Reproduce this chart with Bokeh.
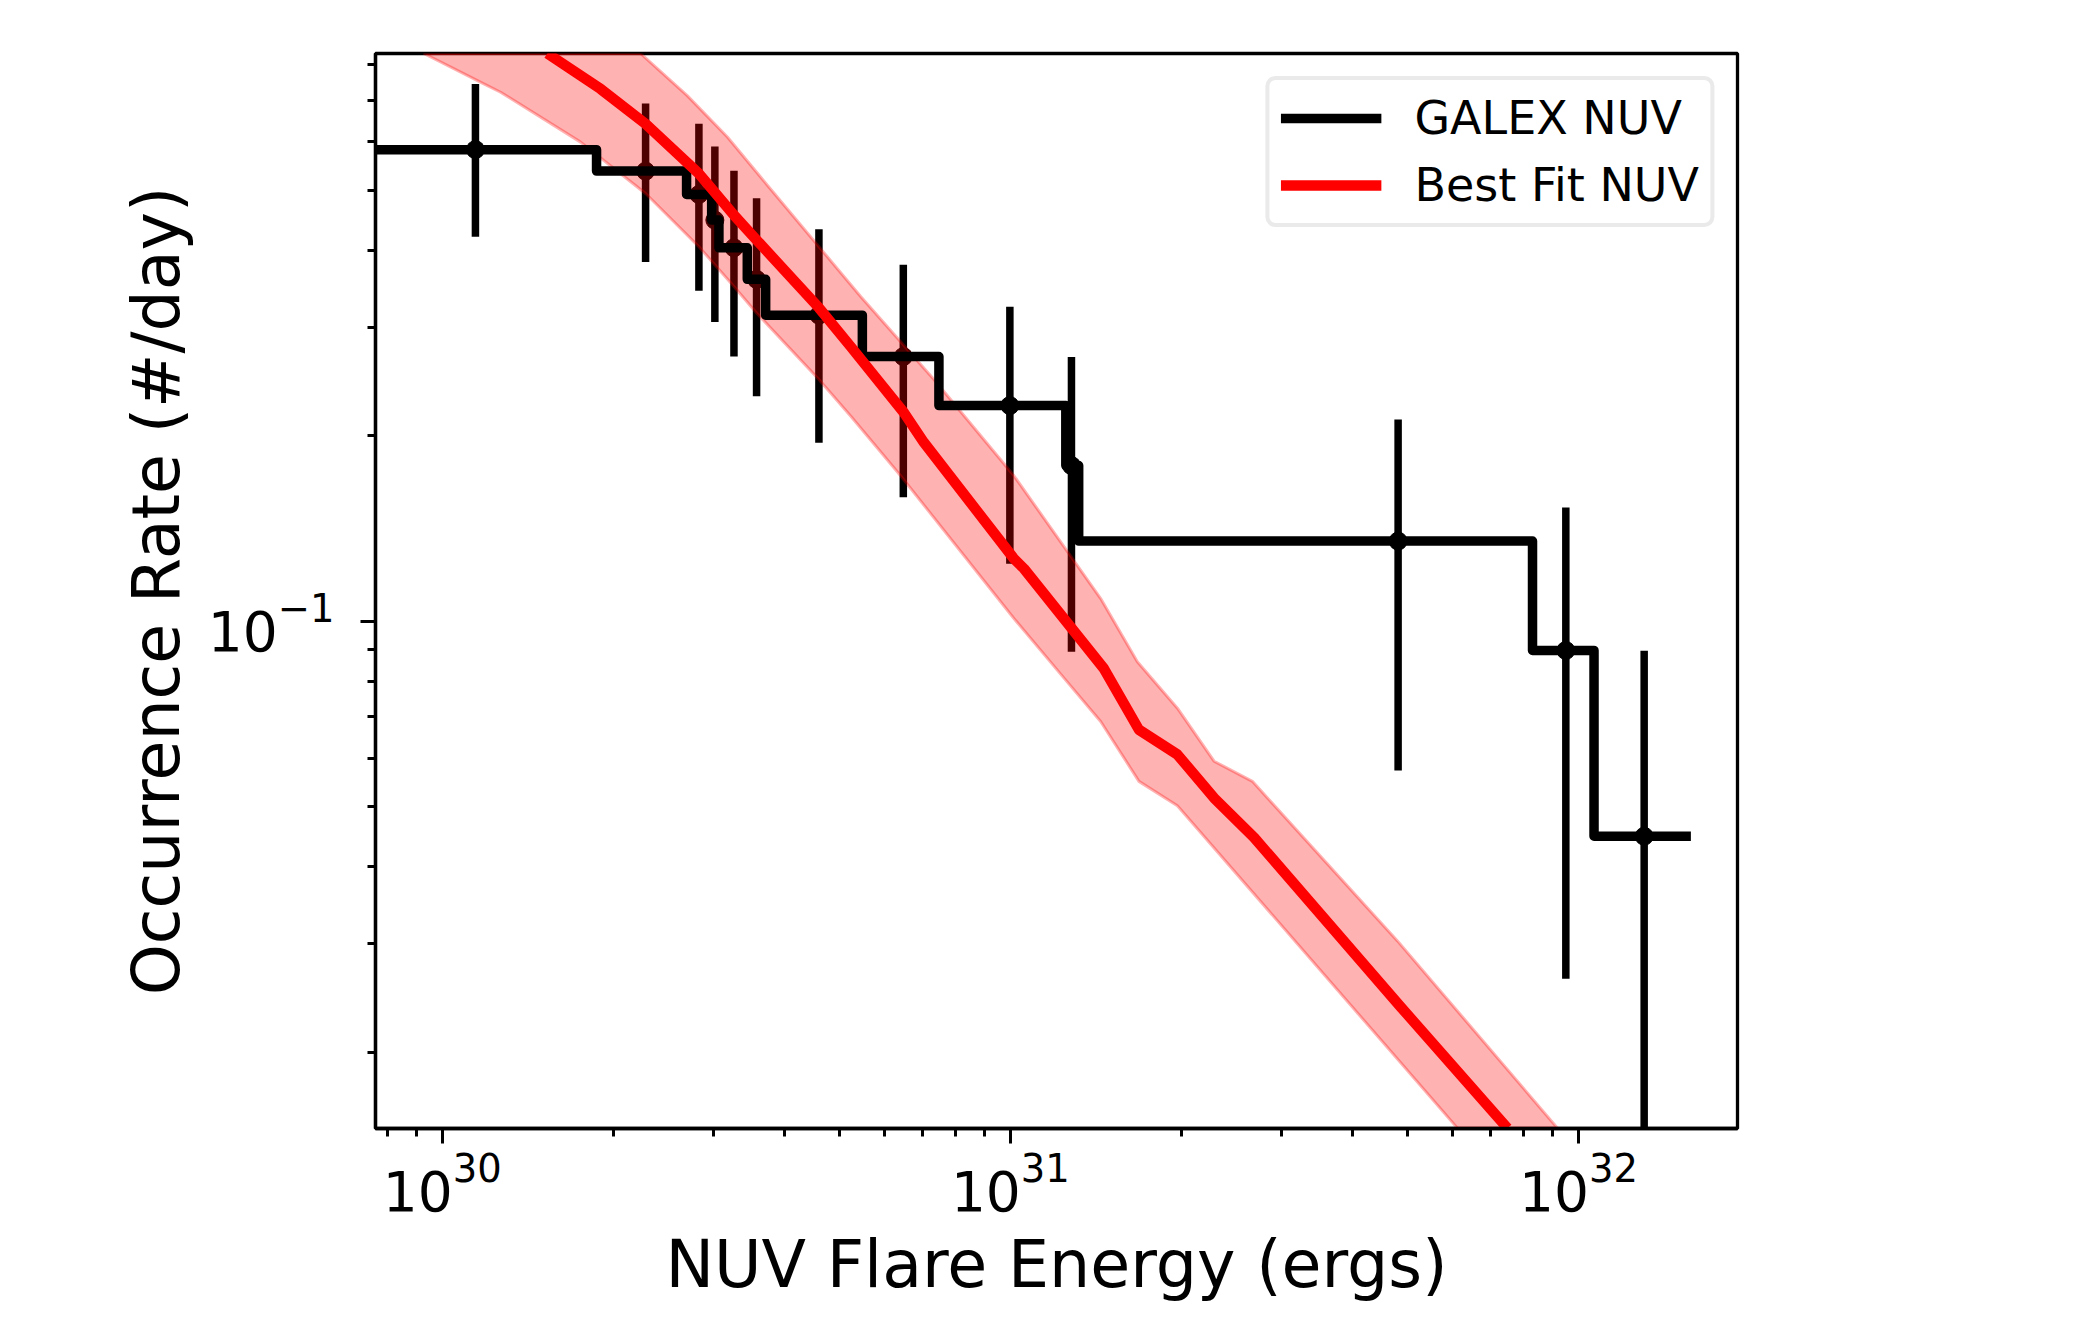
from bokeh.plotting import figure
from bokeh.models import Range1d, FixedTicker, Legend, LegendItem
from bokeh.embed import file_html
from bokeh.resources import INLINE

# GALEX NUV cumulative flare rates (points with error bars)
flare_energy = [1.144e30, 2.280e30, 2.830e30, 3.019e30, 3.262e30, 3.575e30, 4.603e30,
                6.480e30, 9.98e30, 1.281e31, 4.814e31, 9.50e31, 1.305e32]
flare_rate = [0.583, 0.538, 0.493, 0.448, 0.404, 0.359, 0.314,
              0.269, 0.224, 0.179, 0.135, 0.0897, 0.0448]
rate_err = [0.162, 0.155, 0.149, 0.142, 0.135, 0.127, 0.119,
            0.110, 0.100, 0.0897, 0.0777, 0.0634, 0.0448]

# edges of the step histogram, one more than the rates
step_edges = [7.0e29, 1.869e30, 2.692e30, 2.980e30, 3.069e30, 3.443e30, 3.709e30,
              5.489e30, 7.486e30, 1.252e31, 1.319e31, 8.30e31, 1.065e32, 1.577e32]

# best fit curve
fit_energy = [1.531e30, 1.900e30, 2.280e30, 2.830e30, 3.262e30, 3.575e30, 4.603e30, 5.234e30,
              6.496e30, 7.046e30, 1.0146e31, 1.0566e31, 1.460e31, 1.684e31, 1.968e31,
              2.283e31, 2.685e31, 4.866e31, 7.499e31]
fit_rate = [0.835, 0.7313, 0.642, 0.533, 0.4564, 0.416, 0.3228, 0.2793,
            0.2182, 0.1951, 0.1264, 0.1218, 0.0839, 0.0667, 0.0608,
            0.0517, 0.0446, 0.02367, 0.01505]

# uncertainty band around the fit
band_hi_energy = [2.234e30, 2.699e30, 3.176e30, 3.735e30, 5.451e30, 7.336e30, 1.0146e31,
                  1.442e31, 1.673e31, 1.968e31, 2.283e31, 2.667e31, 4.801e31, 9.185e31]
band_hi_rate = [0.835, 0.7134, 0.611, 0.5104, 0.3367, 0.247, 0.1723,
                0.1089, 0.0860, 0.0723, 0.0593, 0.0550, 0.0303, 0.01505]
band_lo_energy = [9.28e29, 1.184e30, 1.267e30, 1.752e30, 2.280e30, 2.830e30, 3.262e30,
                  3.575e30, 4.603e30, 5.234e30, 6.41e30, 1.0146e31, 1.243e31, 1.442e31,
                  1.684e31, 1.968e31, 4.547e31, 6.124e31]
band_lo_rate = [0.835, 0.7453, 0.7225, 0.5996, 0.4949, 0.4056, 0.3496,
                0.3166, 0.247, 0.2154, 0.1723, 0.1011, 0.0809, 0.0688,
                0.0550, 0.0502, 0.02065, 0.01505]

FONT = "DejaVu Sans"

p = figure(width=2065, height=1304,
           x_axis_type="log", y_axis_type="log",
           x_range=Range1d(7.63e29, 1.905e32), y_range=Range1d(0.01503, 0.835),
           output_backend="svg", toolbar_location=None,
           min_border_left=375, min_border_right=328,
           min_border_top=53, min_border_bottom=172)

p.xgrid.visible = False
p.ygrid.visible = False
p.outline_line_color = "black"
p.outline_line_width = 3.3
p.background_fill_color = "white"
p.border_fill_color = "white"

# error bars first, the band sits over them
err_top = [r + e for r, e in zip(flare_rate, rate_err)]
err_bot = [max(r - e, 1e-4) for r, e in zip(flare_rate, rate_err)]
p.segment(x0=flare_energy, y0=err_bot, x1=flare_energy, y1=err_top,
          line_color="black", line_width=7.5)
p.scatter(flare_energy, flare_rate, size=18, color="black")

band_x = band_hi_energy + band_lo_energy[::-1]
band_y = band_hi_rate + band_lo_rate[::-1]
p.patch(band_x, band_y, fill_color="red", fill_alpha=0.3,
        line_color="red", line_alpha=0.3, line_width=3)

step_x, step_y = [], []
for i, r in enumerate(flare_rate):
    step_x += [step_edges[i], step_edges[i + 1]]
    step_y += [r, r]
galex = p.line(step_x, step_y, line_color="black", line_width=9.5, line_join="round")

fit = p.line(fit_energy, fit_rate, line_color="red", line_width=10.5, line_join="round")

legend = Legend(items=[LegendItem(label="GALEX NUV", renderers=[galex]),
                       LegendItem(label="Best Fit NUV", renderers=[fit])],
                location="top_right", margin=23, padding=11, spacing=13,
                glyph_width=101, glyph_height=40, label_standoff=33,
                label_text_font=FONT, label_text_font_size="46px",
                label_text_color="black",
                border_line_color="#d6d6d6", border_line_width=4,
                background_fill_color="white", background_fill_alpha=0.8)
if "border_radius" in legend.properties():
    legend.border_radius = 10
p.add_layout(legend)

p.xaxis.ticker = FixedTicker(ticks=[1e30, 1e31, 1e32],
                             minor_ticks=[m * 10.0 ** e for e in (29, 30, 31) for m in range(2, 10)])
p.yaxis.ticker = FixedTicker(ticks=[0.1],
                             minor_ticks=[m * 10.0 ** e for e in (-2, -1) for m in range(2, 10)])

for ax in (p.xaxis, p.yaxis):
    ax.axis_line_color = "black"
    ax.axis_line_width = 3.3
    ax.major_tick_line_width = 3
    ax.minor_tick_line_width = 3
    ax.major_tick_in = 0
    ax.major_tick_out = 15
    ax.minor_tick_in = 0
    ax.minor_tick_out = 8
    ax.major_label_text_font = FONT
    ax.major_label_text_font_size = "55px"
    ax.major_label_text_color = "black"
    ax.axis_label_text_font = FONT
    ax.axis_label_text_font_size = "65px"
    ax.axis_label_text_font_style = "normal"
    ax.axis_label_text_color = "black"

p.xaxis.axis_label = "NUV Flare Energy (ergs)"
p.yaxis.axis_label = "Occurrence Rate (#/day)"
p.xaxis.major_label_standoff = 8
p.xaxis.axis_label_standoff = 13
p.yaxis.major_label_standoff = 26
p.yaxis.axis_label_standoff = 11

open("out.html", "w").write(file_html(p, INLINE))
